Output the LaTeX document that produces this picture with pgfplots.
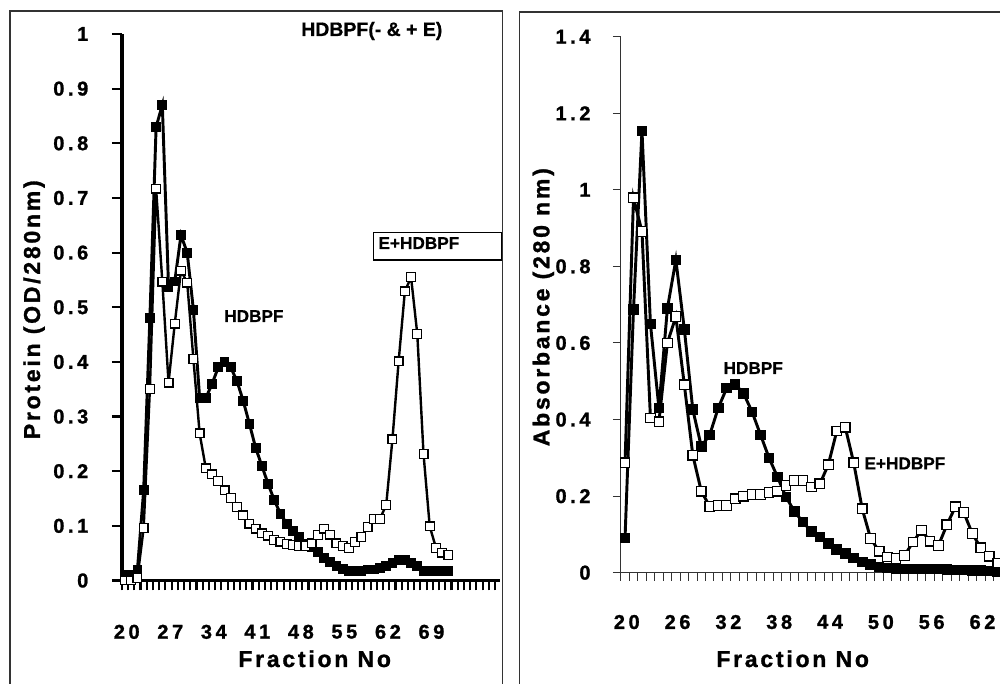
\documentclass[border=0pt]{standalone}
\usepackage{fontspec}
\setmainfont{Liberation Sans}
\newfontfamily\tickfont[LetterSpace=18, FakeBold=1.2]{Liberation Sans Bold}
\newfontfamily\labfont[LetterSpace=12, FakeBold=1.2]{Liberation Sans Bold}
\newfontfamily\annfont[FakeBold=0.6]{Liberation Sans Bold}
\newcommand{\tkf}{\tickfont\fontsize{15}{18}\selectfont}
\newcommand{\tl}[1]{\hbox{\tkf #1}}
\usepackage{pgfplots}
\pgfplotsset{compat=1.18}

\pgfplotstableread{
f v
20 0.01
21 0.01
22 0.02
23 0.165
24 0.48
25 0.83
26 0.87
27 0.537
28 0.547
29 0.632
30 0.60
31 0.495
32 0.334
33 0.334
34 0.36
35 0.39
36 0.40
37 0.39
38 0.365
39 0.329
40 0.287
41 0.243
42 0.21
43 0.177
44 0.147
45 0.122
46 0.104
47 0.09
48 0.08
49 0.067
50 0.062
51 0.052
52 0.041
53 0.034
54 0.027
55 0.021
56 0.018
57 0.018
58 0.018
59 0.02
60 0.02
61 0.023
62 0.027
63 0.032
64 0.038
65 0.038
66 0.032
67 0.026
68 0.018
69 0.017
70 0.017
71 0.018
72 0.018
}\leftfilled

\pgfplotstableread{
f v
20 0.0
21 0.0
22 0.005
23 0.096
24 0.35
25 0.717
26 0.547
27 0.362
28 0.47
29 0.567
30 0.545
31 0.405
32 0.269
33 0.205
34 0.194
35 0.182
36 0.165
37 0.151
38 0.135
39 0.119
40 0.104
41 0.095
42 0.086
43 0.082
44 0.074
45 0.071
46 0.067
47 0.065
48 0.063
49 0.063
50 0.068
51 0.083
52 0.095
53 0.084
54 0.068
55 0.063
56 0.059
57 0.07
58 0.08
59 0.098
60 0.113
61 0.113
62 0.138
63 0.258
64 0.401
65 0.529
66 0.555
67 0.451
68 0.232
69 0.099
70 0.06
71 0.051
72 0.047
}\leftopen

\pgfplotstableread{
f v
20 0.091
21 0.688
22 1.154
23 0.65
24 0.43
25 0.69
26 0.817
27 0.636
28 0.426
29 0.33
30 0.36
31 0.43
32 0.482
33 0.492
34 0.468
35 0.42
36 0.36
37 0.30
38 0.25
39 0.198
40 0.16
41 0.132
42 0.108
43 0.093
44 0.076
45 0.061
46 0.051
47 0.038
48 0.028
49 0.022
50 0.015
51 0.012
52 0.01
53 0.01
54 0.01
55 0.01
56 0.01
57 0.01
58 0.008
59 0.007
60 0.007
61 0.006
62 0.005
63 0.004
64 0.003
65 0.003
}\rightfilled

\pgfplotstableread{
f v
20 0.287
21 0.979
22 0.891
23 0.404
24 0.394
25 0.60
26 0.669
27 0.491
28 0.307
29 0.213
30 0.173
31 0.176
32 0.176
33 0.193
34 0.20
35 0.204
36 0.204
37 0.209
38 0.213
39 0.228
40 0.241
41 0.241
42 0.224
43 0.232
44 0.282
45 0.37
46 0.38
47 0.287
48 0.167
49 0.089
50 0.056
51 0.041
52 0.037
53 0.045
54 0.08
55 0.111
56 0.082
57 0.071
58 0.125
59 0.172
60 0.157
61 0.102
62 0.065
63 0.043
64 0.025
65 0.02
}\rightopen

\begin{document}
\begin{tikzpicture}
\fill[white] (0,0) rectangle (750pt,513pt);
\begin{scope}
\clip (0,0) rectangle (750pt,513pt);
% panel frames
\draw[black!80, line width=0.8pt] (7.5pt,-20pt) -- (7.5pt,504.75pt) -- (377pt,504.75pt) -- (377pt,-20pt);
\draw[black!80, line width=0.8pt] (389.5pt,-20pt) -- (389.5pt,504pt) -- (770pt,504pt);

\begin{axis}[
  at={(91.425pt,77.625pt)}, anchor=south west,
  scale only axis, width=283.575pt, height=409.875pt,
  xmin=19.5, xmax=80.3, ymin=0, ymax=1,
  clip=false,
  axis x line*=bottom, axis y line*=left,
  axis line style={line width=2.8pt, black},
  tick align=outside,
  major tick length=7.5pt, minor tick length=7.5pt,
  major tick style={line width=1.6pt, black},
  minor tick style={line width=1.6pt, black},
  xtick={20,27,...,69},
  xticklabels={\tl{20},\tl{27},\tl{34},\tl{41},\tl{48},\tl{55},\tl{62},\tl{69}},
  minor xtick={19.5,20.5,...,80.5},
  major x tick style={draw=none},
  ytick={0,0.1,...,1.0},
  yticklabels={\tl{0},\tl{0.1},\tl{0.2},\tl{0.3},\tl{0.4},\tl{0.5},\tl{0.6},\tl{0.7},\tl{0.8},\tl{0.9},\tl{1}},
  yticklabel style={anchor=east, inner sep=0pt, font=\tkf},
  xticklabel style={anchor=north, inner sep=0pt, font=\tkf, xshift=1.3pt},
  yticklabel shift=17.5pt,
  xticklabel shift=25.5pt,
]
\addplot[black, line width=2.2pt, mark=square*, mark size=3.3pt,
  mark options={solid, fill=black, draw=black, line width=0.7pt}]
  table[x=f, y=v] {\leftfilled};
\addplot[black, line width=1.8pt, mark=square*, mark size=3.3pt,
  mark options={solid, fill=white, draw=black, line width=0.9pt}]
  table[x=f, y=v] {\leftopen};
\end{axis}

\begin{axis}[
  at={(465.6pt,83.475pt)}, anchor=south west,
  scale only axis, width=285.86pt, height=402pt,
  xmin=19.5, xmax=64.5, ymin=0, ymax=1.4,
  clip=false,
  axis x line*=bottom, axis y line*=left,
  axis line style={line width=0.75pt, black!80},
  tick align=outside,
  major tick length=6pt, minor tick length=6pt,
  major tick style={line width=0.75pt, black!80},
  minor tick style={line width=0.75pt, black!80},
  xtick={20,26,...,62},
  xticklabels={\tl{20},\tl{26},\tl{32},\tl{38},\tl{44},\tl{50},\tl{56},\tl{62}},
  minor xtick={19.5,20.5,...,64.5},
  major x tick style={draw=none},
  ytick={0,0.2,...,1.4},
  yticklabels={\tl{0},\tl{0.2},\tl{0.4},\tl{0.6},\tl{0.8},\tl{1},\tl{1.2},\tl{1.4}},
  yticklabel style={anchor=east, inner sep=0pt, font=\tkf},
  xticklabel style={anchor=north, inner sep=0pt, font=\tkf, xshift=1.3pt},
  yticklabel shift=16.5pt,
  xticklabel shift=25.5pt,
]
\addplot[black, line width=2.2pt, mark=square*, mark size=3.6pt,
  mark options={solid, fill=black, draw=black, line width=0.8pt}]
  table[x=f, y=v] {\rightfilled};
\addplot[black, line width=2.2pt, mark=square*, mark size=3.6pt,
  mark options={solid, fill=white, draw=black, line width=0.9pt}]
  table[x=f, y=v] {\rightopen};
\end{axis}

% axis titles
\node[anchor=base, inner sep=0pt, font=\labfont\fontsize{17.25}{20}\selectfont] at (236pt,12.75pt) {Fraction No};
\node[anchor=base, inner sep=0pt, font=\labfont\fontsize{17.25}{20}\selectfont] at (594.5pt,12.75pt) {Fraction No};
\node[anchor=base, rotate=90, inner sep=0pt, font=\labfont\fontsize{17.25}{20}\selectfont] at (30pt,280.7pt) {Protein (OD/280nm)};
\node[anchor=base, rotate=90, inner sep=0pt, font=\labfont\fontsize{17.25}{20}\selectfont] at (412pt,282.6pt) {Absorbance (280 nm)};

% annotations
\node[anchor=base west, inner sep=0pt, font=\annfont\fontsize{14.6}{17}\selectfont] at (225.75pt,486pt) {HDBPF(- \& + E)};
\draw[black, line width=0.9pt, fill=white] (280pt,318pt) rectangle (376pt,338.8pt);
\node[anchor=base west, inner sep=0pt, font=\annfont\fontsize{12.9}{15}\selectfont] at (283.7pt,326.25pt) {E+HDBPF};
\node[anchor=base west, inner sep=0pt, font=\annfont\fontsize{12.9}{15}\selectfont] at (168pt,271.5pt) {HDBPF};
\node[anchor=base west, inner sep=0pt, font=\annfont\fontsize{12.9}{15}\selectfont] at (542.5pt,232.5pt) {HDBPF};
\node[anchor=base west, inner sep=0pt, font=\annfont\fontsize{12.9}{15}\selectfont] at (648.2pt,161pt) {E+HDBPF};
\end{scope}
\pgfresetboundingbox
\useasboundingbox (0,0) rectangle (750pt,513pt);
\end{tikzpicture}
\end{document}
